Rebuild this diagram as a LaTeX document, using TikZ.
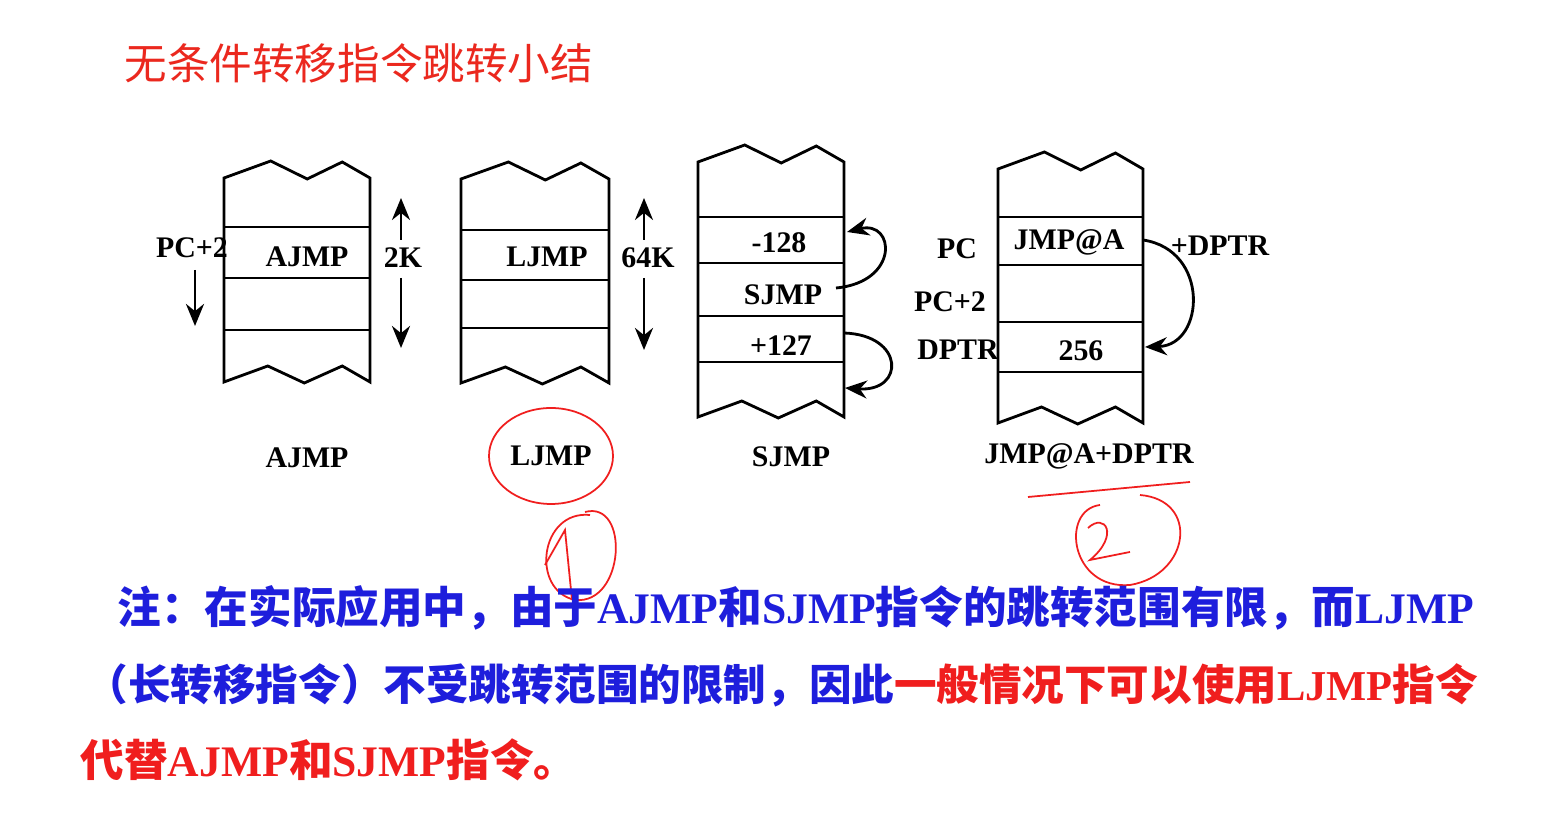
\documentclass[tikz,border=0pt]{standalone}
\usepackage{fontspec}
\setmainfont{Liberation Serif}
\newfontfamily\cjk{Noto Sans CJK SC}
\usetikzlibrary{arrows.meta}
\definecolor{titlered}{RGB}{235,40,30}
\definecolor{noteblue}{RGB}{30,30,220}
\definecolor{notered}{RGB}{240,30,30}

\begin{document}
\begin{tikzpicture}[x=0.01cm,y=-0.01cm,
  lbl/.style={font=\bfseries\fontsize{8.5}{10}\selectfont, inner sep=0pt},
  note/.style={anchor=west, font=\bfseries\fontsize{12.4}{15}\selectfont, inner sep=0pt},
  ink/.style={notered, line width=0.5pt},
  arr/.style={-{Stealth[length=2.2mm, width=1.8mm]}, thick}]
%
\path[use as bounding box, fill=white] (0,0) rectangle (1547,828);
%
% column: left x, right x, top y, bottom y, list of rule heights
\newcommand{\memcol}[5]{
  \pgfmathsetmacro{\w}{#2-#1}
  \draw[thick] (#1,#3+17) -- (#1+0.32*\w,#3) -- (#1+0.57*\w,#3+18) -- (#1+0.81*\w,#3+1) -- (#2,#3+17)
    -- (#2,#4) -- (#1+0.81*\w,#4-16) -- (#1+0.55*\w,#4+1) -- (#1+0.3*\w,#4-16) -- (#1,#4) -- cycle;
  \foreach \h in {#5}{
    \draw[thick] (#1,\h) -- (#2,\h);
  };
}
%
\node[anchor=west, text=titlered, font=\cjk\fontsize{12.1}{14}\selectfont, inner sep=0pt] (title) at (124,63) {无条件转移指令跳转小结};
%
\memcol{224}{370}{161}{382}{227,278,330}
\memcol{461}{609}{162}{383}{230,280,328}
\memcol{698}{844}{145}{417}{217,263,316,362}
\memcol{998}{1143}{152}{423}{217,265,322,372}
%
% AJMP
\node[lbl] (aj) at (307,257) {AJMP};
\node[lbl] (pc2a) at (192,248) {PC+2};
\coordinate (pca) at (195,270);
\coordinate (pcb) at (195,326);
\draw[arr] (pca) -- (pcb);
\node[lbl] (k2) at (403,258) {2K};
\coordinate (k2t) at (401,198);
\coordinate (k2b) at (401,348);
\draw[arr] (401,240) -- (k2t);
\draw[arr] (401,278) -- (k2b);
\node[lbl] (ajcap) at (307,458) {AJMP};
%
% LJMP
\node[lbl] (lj) at (547,257) {LJMP};
\node[lbl] (k64) at (648,258) {64K};
\coordinate (k64t) at (644,198);
\coordinate (k64b) at (644,350);
\draw[arr] (644,240) -- (k64t);
\draw[arr] (644,278) -- (k64b);
\node[lbl] (ljcap) at (551,456) {LJMP};
%
% SJMP
\node[lbl] (neg) at (779,243) {-128};
\node[lbl] (sj) at (783,295) {SJMP};
\node[lbl] (pos) at (781,346) {+127};
\coordinate (sja) at (836,288);
\coordinate (nega) at (847,232);
\coordinate (posa) at (844,333);
\coordinate (posb) at (845,388);
\draw[arr] (sja) .. controls (900,282) and (895,220) .. (nega);
\draw[arr] (posa) .. controls (905,335) and (905,392) .. (posb);
\node[lbl] (sjcap) at (791,457) {SJMP};
%
% JMP@A+DPTR
\node[lbl] (jm) at (1069,242) {JMP@A};
\node[lbl] (v256) at (1081,351) {256};
\node[lbl] (pc) at (957,249) {PC};
\node[lbl] (pc2b) at (950,302) {PC+2};
\node[lbl] (dp) at (958,350) {DPTR};
\node[lbl] (pdp) at (1220,246) {+DPTR};
\coordinate (jma) at (1143,240);
\coordinate (v256a) at (1145,347);
\draw[arr] (jma) .. controls (1210,250) and (1205,345) .. (v256a);
\node[lbl] (jmcap) at (1089,456) {JMP@A+DPTR};
%
% hand marks
\draw[ink] (ljcap) ellipse [x radius=62, y radius=48];
\draw[ink] (590,515) .. controls (540,510) and (530,590) .. (575,600) .. controls (625,605) and (630,500) .. (585,512);
\draw[ink] (545,565) -- (565,530) -- (572,600);
\draw[ink] (1028,497) -- (1190,482);
\draw[ink] (1100,505) .. controls (1060,510) and (1070,590) .. (1130,585) .. controls (1190,575) and (1200,500) .. (1140,495);
\draw[ink] (1088,528) .. controls (1105,512) and (1120,535) .. (1090,560) -- (1130,552);
%
% note
\node[note] (n1) at (117,608) {\textcolor{noteblue}{\cjk 注：在实际应用中，由于}\textcolor{noteblue}{AJMP}\textcolor{noteblue}{\cjk 和}\textcolor{noteblue}{SJMP}\textcolor{noteblue}{\cjk 指令的跳转范围有限，而}\textcolor{noteblue}{LJMP}};
\node[note, font=\bfseries\fontsize{12.1}{15}\selectfont] (n2) at (85,685) {\textcolor{noteblue}{\cjk （长转移指令）不受跳转范围的限制，因此}\textcolor{notered}{\cjk 一般情况下可以使用}\textcolor{notered}{LJMP}\textcolor{notered}{\cjk 指令}};
\node[note] (n3) at (80,760) {\textcolor{notered}{\cjk 代替}\textcolor{notered}{AJMP}\textcolor{notered}{\cjk 和}\textcolor{notered}{SJMP}\textcolor{notered}{\cjk 指令。}};
%
\end{tikzpicture}
\end{document}
